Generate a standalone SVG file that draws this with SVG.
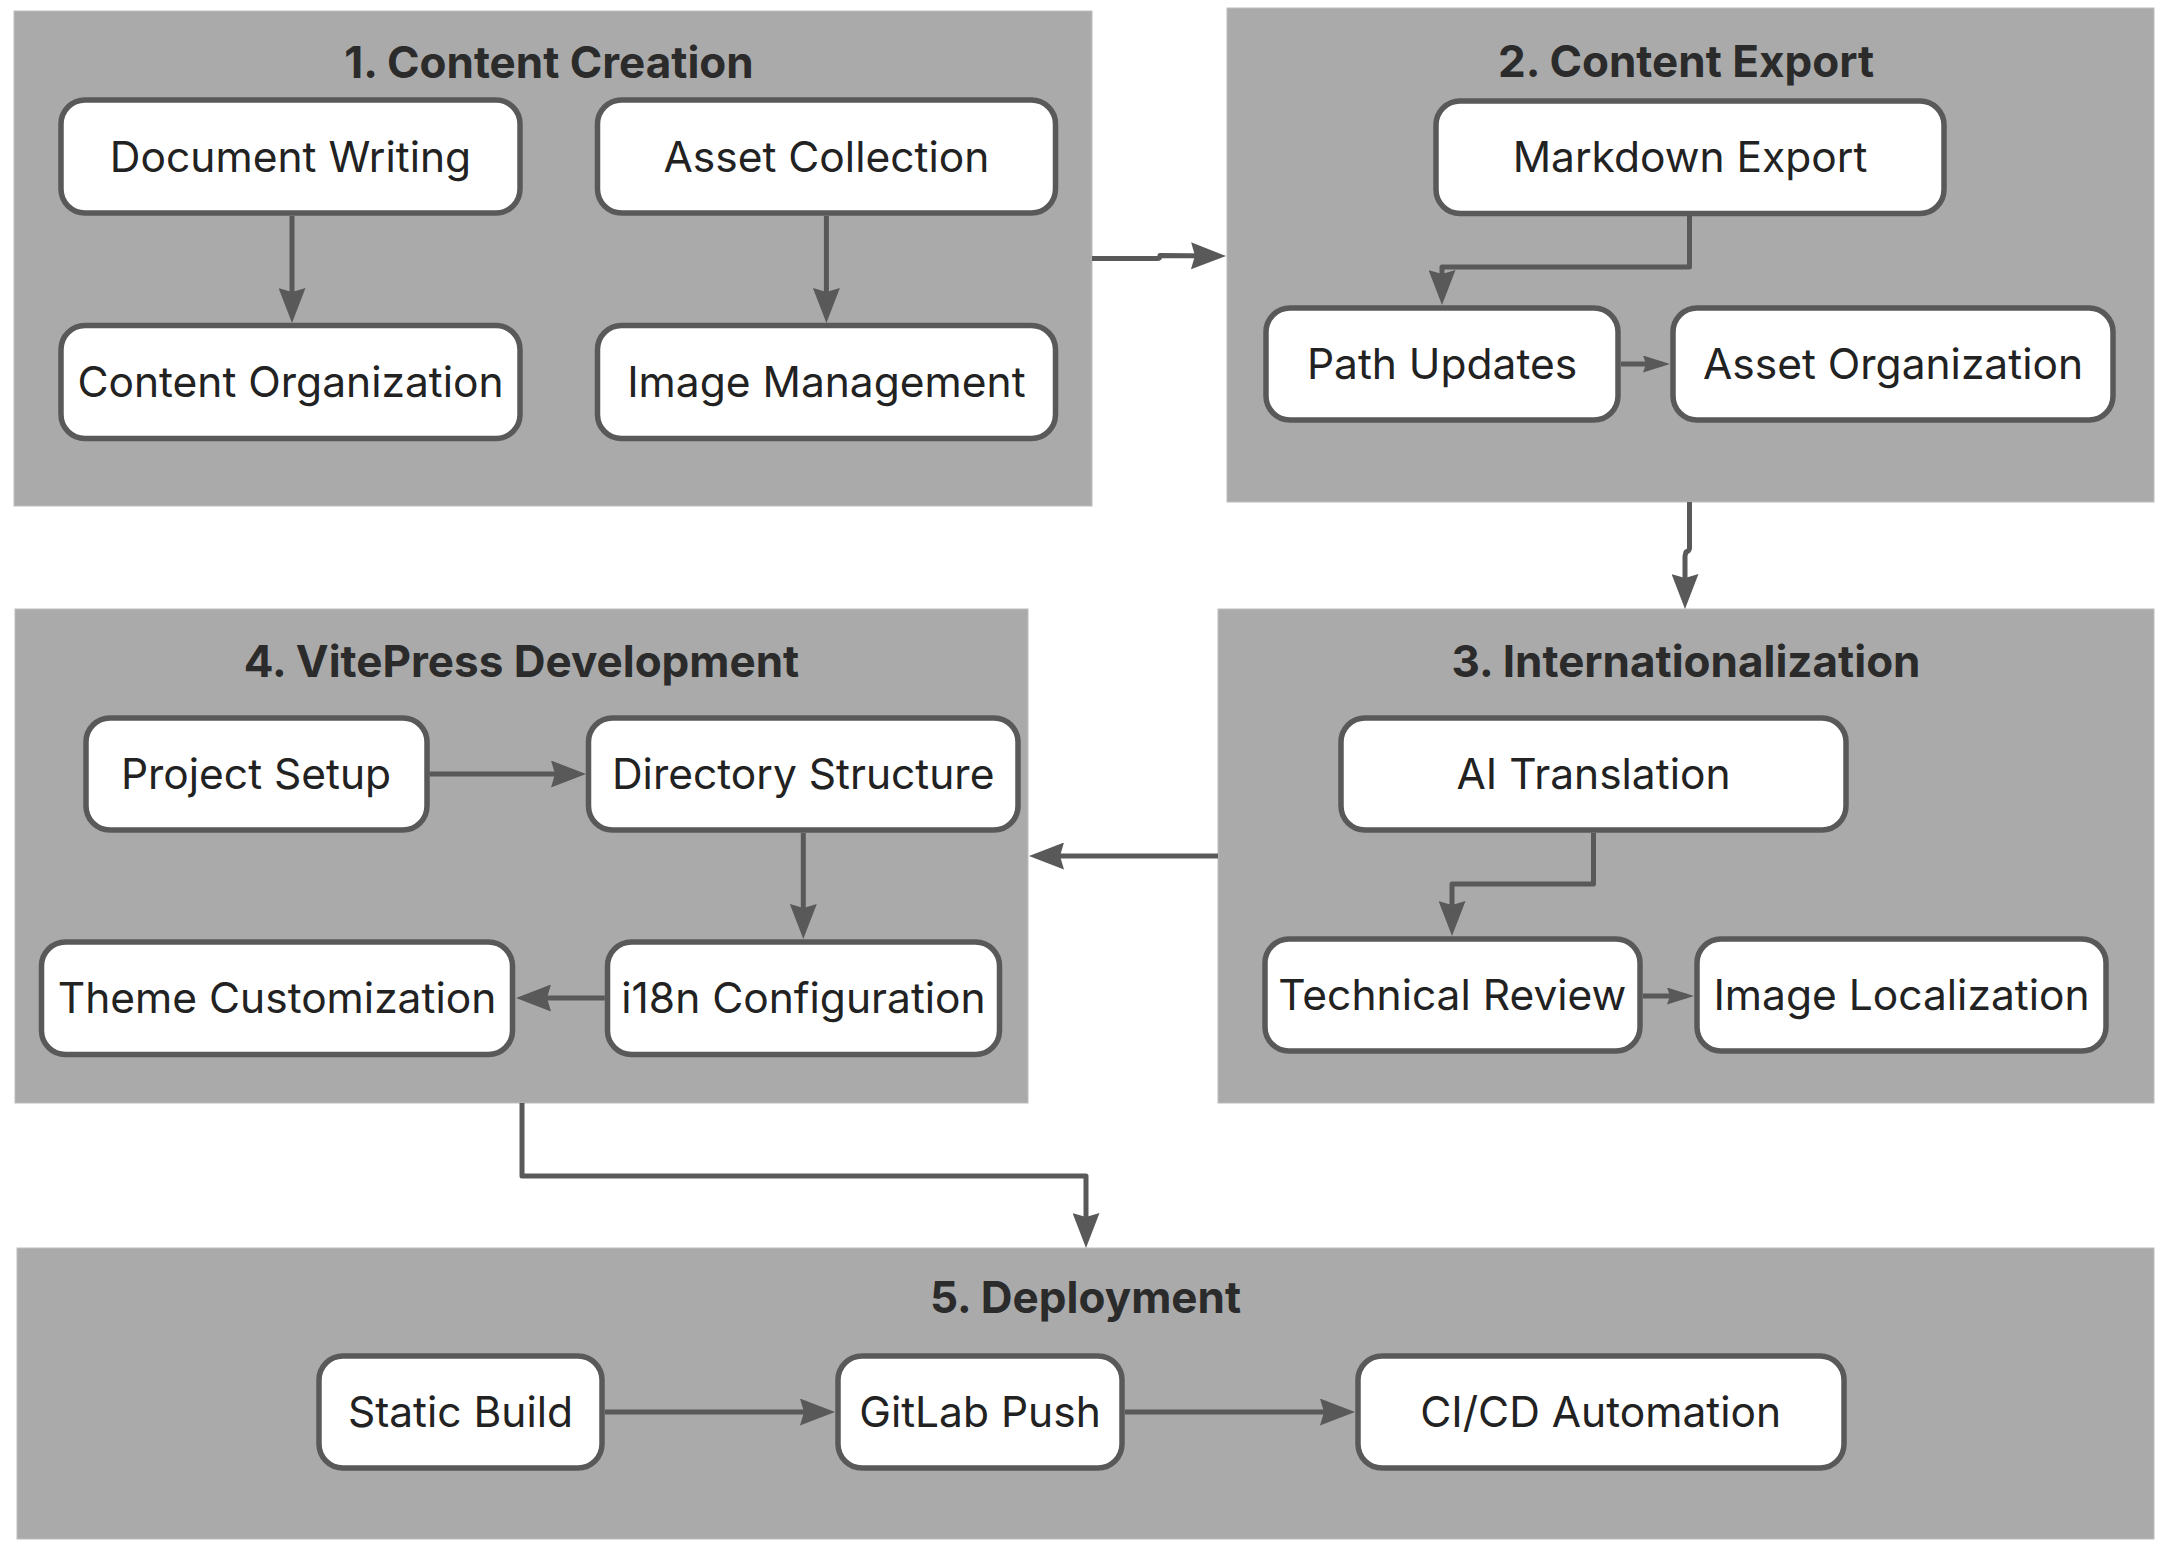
<svg xmlns="http://www.w3.org/2000/svg" width="2172" height="1558" viewBox="0 0 2172 1558">
<style>
.bg{fill:#ffffff}
.cluster{fill:#aaaaaa;stroke:#bdbdbd;stroke-width:1}
.ctitle{font-family:Inter,"Liberation Sans",sans-serif;font-weight:700;font-size:44px;fill:#2b2b2b;text-anchor:middle}
.node rect{fill:#ffffff;stroke:#595959;stroke-width:5.5}
.node text{font-family:Inter,"Liberation Sans",sans-serif;font-size:42.5px;fill:#222222;text-anchor:middle}
.edge{fill:none;stroke:#595959;stroke-width:5;stroke-linejoin:round}
</style>
<defs>
<marker id="arr" markerUnits="userSpaceOnUse" viewBox="0 0 35 27" refX="25" refY="13.5" markerWidth="35" markerHeight="27" orient="auto">
<path d="M0,0 L35,13.5 L0,27 L4,13.5 z" fill="#595959"/>
</marker>
<marker id="arrs" markerUnits="userSpaceOnUse" viewBox="0 0 27 17" refX="19" refY="8.5" markerWidth="27" markerHeight="17" orient="auto">
<path d="M0,0 L27,8.5 L0,17 L3,8.5 z" fill="#595959"/>
</marker>
</defs>
<rect class="bg" x="0" y="0" width="2172" height="1558"/>

<g id="clusters">
<g id="cluster-1"><rect class="cluster" x="14" y="11" width="1078" height="495"/><text class="ctitle" x="549" y="78">1. Content Creation</text></g>
<g id="cluster-2"><rect class="cluster" x="1227" y="8" width="927" height="494"/><text class="ctitle" x="1686" y="77">2. Content Export</text></g>
<g id="cluster-3"><rect class="cluster" x="1218" y="609" width="936" height="494"/><text class="ctitle" x="1686" y="677">3. Internationalization</text></g>
<g id="cluster-4"><rect class="cluster" x="15" y="609" width="1013" height="494"/><text class="ctitle" x="521.5" y="677">4. VitePress Development</text></g>
<g id="cluster-5"><rect class="cluster" x="17" y="1248" width="2137" height="291"/><text class="ctitle" x="1085.5" y="1313">5. Deployment</text></g>
</g>

<g id="connectors">
<path class="edge" d="M292,216 L292,313" marker-end="url(#arr)"/>
<path class="edge" d="M826.4,216 L826.4,313" marker-end="url(#arr)"/>
<path class="edge" d="M1092,258.5 L1157,258.5 Q1160,258.5 1160,255.5 L1216,256" marker-end="url(#arr)"/>
<path class="edge" d="M1689.5,216 L1689.5,267 L1442,267 L1442,295" marker-end="url(#arr)"/>
<path class="edge" d="M1621,364 L1662,364" marker-end="url(#arrs)"/>
<path class="edge" d="M1689.5,502 L1689.5,548 Q1689.5,551 1686,552 L1685,556 L1685,599" marker-end="url(#arr)"/>
<path class="edge" d="M1593.5,833 L1593.5,884 L1452,884 L1452,926" marker-end="url(#arr)"/>
<path class="edge" d="M1643,996 L1686,996" marker-end="url(#arrs)"/>
<path class="edge" d="M1218,856 L1039,856" marker-end="url(#arr)"/>
<path class="edge" d="M429.3,774 L576,774" marker-end="url(#arr)"/>
<path class="edge" d="M803.3,833 L803.3,929" marker-end="url(#arr)"/>
<path class="edge" d="M604.7,998 L526,998" marker-end="url(#arr)"/>
<path class="edge" d="M522,1103 L522,1176 L1086,1176 L1086,1238" marker-end="url(#arr)"/>
<path class="edge" d="M605,1412 L825,1412" marker-end="url(#arr)"/>
<path class="edge" d="M1125,1412 L1345,1412" marker-end="url(#arr)"/>
</g>

<g id="node-document-writing" class="node"><rect x="61" y="100" width="459" height="113" rx="24"/><text x="290.5" y="171.5">Document Writing</text></g>
<g id="node-asset-collection" class="node"><rect x="597.5" y="100" width="458" height="113" rx="24"/><text x="826.4" y="171.5">Asset Collection</text></g>
<g id="node-content-organization" class="node"><rect x="61" y="325.5" width="459" height="113" rx="24"/><text x="290.5" y="396.5">Content Organization</text></g>
<g id="node-image-management" class="node"><rect x="597.5" y="325.5" width="458" height="113" rx="24"/><text x="826.4" y="396.5">Image Management</text></g>

<g id="node-markdown-export" class="node"><rect x="1436" y="101" width="508" height="112.5" rx="24"/><text x="1690" y="172">Markdown Export</text></g>
<g id="node-path-updates" class="node"><rect x="1266" y="308" width="352" height="112" rx="24"/><text x="1442" y="379">Path Updates</text></g>
<g id="node-asset-organization" class="node"><rect x="1673" y="308" width="440" height="112" rx="24"/><text x="1893" y="379">Asset Organization</text></g>

<g id="node-ai-translation" class="node"><rect x="1341" y="718" width="505" height="112" rx="24"/><text x="1593.5" y="789">AI Translation</text></g>
<g id="node-technical-review" class="node"><rect x="1265" y="939" width="375" height="112" rx="24"/><text x="1452.3" y="1010">Technical Review</text></g>
<g id="node-image-localization" class="node"><rect x="1697" y="939" width="409" height="112" rx="24"/><text x="1901.5" y="1010">Image Localization</text></g>

<g id="node-project-setup" class="node"><rect x="86" y="718" width="341" height="112" rx="24"/><text x="256" y="789">Project Setup</text></g>
<g id="node-directory-structure" class="node"><rect x="588.5" y="718" width="429.5" height="112" rx="24"/><text x="803.2" y="789">Directory Structure</text></g>
<g id="node-i18n-configuration" class="node"><rect x="607.5" y="942" width="392" height="112.5" rx="24"/><text x="803.5" y="1013">i18n Configuration</text></g>
<g id="node-theme-customization" class="node"><rect x="41.5" y="942" width="471" height="112.5" rx="24"/><text x="277" y="1013">Theme Customization</text></g>

<g id="node-static-build" class="node"><rect x="319" y="1356" width="283" height="112" rx="24"/><text x="460.5" y="1427">Static Build</text></g>
<g id="node-gitlab-push" class="node"><rect x="838" y="1356" width="284" height="112" rx="24"/><text x="980" y="1427">GitLab Push</text></g>
<g id="node-cicd-automation" class="node"><rect x="1358" y="1356" width="486" height="112" rx="24"/><text x="1600.7" y="1427">CI/CD Automation</text></g>
</svg>
